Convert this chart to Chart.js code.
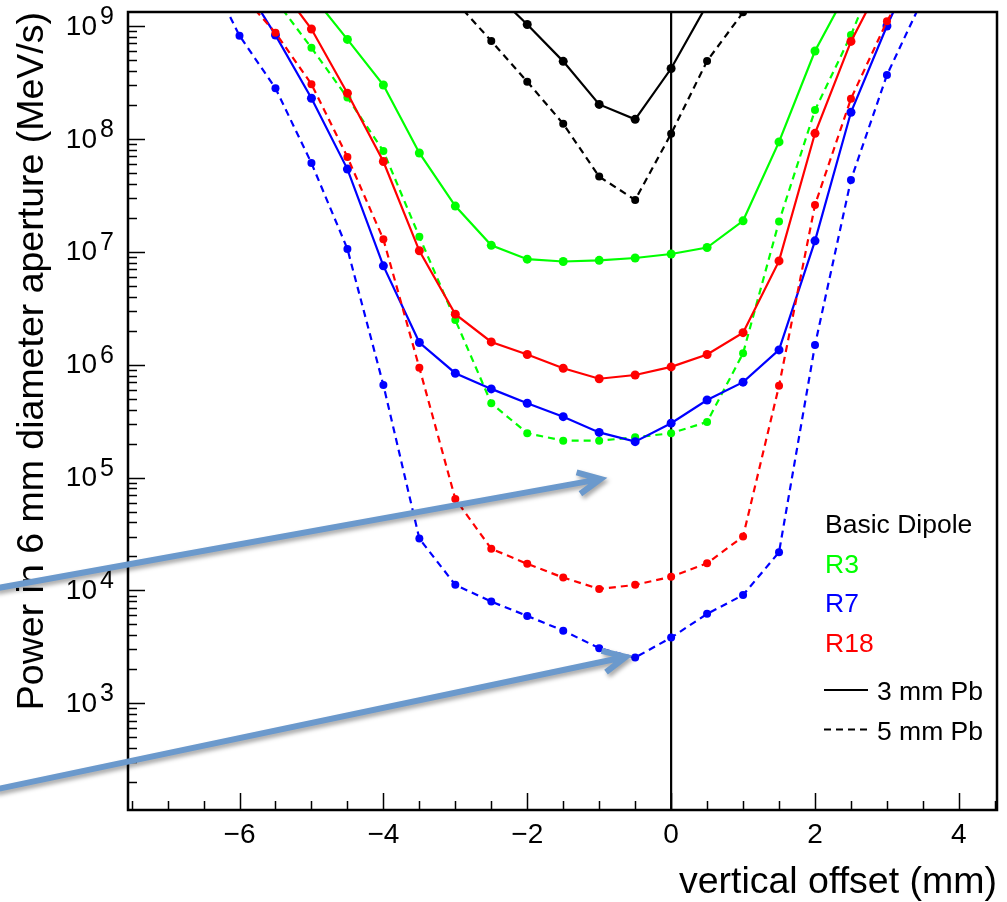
<!DOCTYPE html>
<html>
<head>
<meta charset="utf-8">
<script src="https://cdn.jsdelivr.net/npm/chart.js@4.4.0/dist/chart.umd.min.js"></script>
<style>
  html, body { margin: 0; padding: 0; background: #fff; }
  canvas { display: block; }
</style>
</head>
<body>
<canvas id="myChart" width="1007" height="902"></canvas>
<script>
// vertical offset (mm)
const offsets = [-6.5, -6, -5.5, -5, -4.5, -4, -3.5, -3, -2.5, -2, -1.5, -1, -0.5, 0, 0.5, 1, 1.5, 2, 2.5, 3, 3.5];

// power (MeV/s), null = no point
const dipolePb3 = [null, null, null, null, null, null, null, null, 2.1e9, 1.03e9, 4.86e8, 2.02e8, 1.49e8, 4.2e8, 1.55e9, null, null, null, null, null, null];
const dipolePb5 = [null, null, null, null, null, null, null, 1.66e9, 7.36e8, 3.21e8, 1.36e8, 4.63e7, 2.88e7, 1.11e8, 4.9e8, 1.32e9, 3.5e9, null, null, null, null];
const r3Pb3 = [null, null, null, 1.9e9, 7.6e8, 3.0e8, 7.5e7, 2.54e7, 1.14e7, 8.6e6, 8.2e6, 8.4e6, 8.8e6, 9.55e6, 1.09e7, 1.88e7, 9.4e7, 6.0e8, 2.35e9, null, null];
const r3Pb5 = [null, null, 1.7e9, 6.4e8, 2.32e8, 7.8e7, 1.36e7, 2.49e6, 4.55e5, 2.47e5, 2.12e5, 2.12e5, 2.27e5, 2.47e5, 3.11e5, 1.26e6, 1.85e7, 1.8e8, 8.3e8, 5e9, null];
const r7Pb3 = [null, 2.7e9, 8.3e8, 2.29e8, 5.4e7, 7.5e6, 1.57e6, 8.4e5, 6.1e5, 4.55e5, 3.46e5, 2.51e5, 2.08e5, 3.03e5, 4.86e5, 7.0e5, 1.35e6, 1.25e7, 1.72e8, 1.0e9, 5e9];
const r7Pb5 = [3.6e9, 8.2e8, 2.81e8, 6.1e7, 1.06e7, 6.6e5, 2.88e4, 1.12e4, 7.96e3, 5.95e3, 4.4e3, 3.08e3, 2.54e3, 3.82e3, 6.2e3, 9.1e3, 2.18e4, 1.49e6, 4.33e7, 3.68e8, 1.75e9];
const r18Pb3 = [null, null, 2.5e9, 9.4e8, 2.54e8, 6.3e7, 1.02e7, 2.8e6, 1.59e6, 1.23e6, 9.3e5, 7.5e5, 8.1e5, 9.55e5, 1.23e6, 1.92e6, 8.3e6, 1.12e8, 7.3e8, 3e9, null];
const r18Pb5 = [null, 2e9, 8.7e8, 3.05e8, 6.9e7, 1.29e7, 9.4e5, 6.46e4, 2.34e4, 1.72e4, 1.3e4, 1.03e4, 1.12e4, 1.32e4, 1.74e4, 3.0e4, 6.5e5, 2.6e7, 2.27e8, 1.1e9, 4e9];

// axes
const xMin = -7.55, xMax = 4.53;
const yMin = 113.5, yMax = 1.33e9;
const xTicks = [-6, -4, -2, 0, 2, 4];
const yDecades = [3, 4, 5, 6, 7, 8, 9];

// legend
const legendNames = ['Basic Dipole', 'R3', 'R7', 'R18'];
const legendColors = ['#000000', '#00ff00', '#0000ff', '#ff0000'];
const legendStyles = ['3 mm Pb', '5 mm Pb'];

// annotation arrows, data coords [x, y] tail -> tip
const arrowTails = [[-9.4, 1.04e4], [-9.4, 172]];
const arrowTips = [[-0.98, 9.7e4], [-0.63, 2.58e3]];

const toPoints = (arr) => offsets.map((x, i) => ({ x: x, y: arr[i] })).filter((p) => p.y !== null);

const series = (arr, color, dashed, order) => ({
  data: toPoints(arr),
  borderColor: color,
  backgroundColor: color,
  borderWidth: 2.2,
  borderDash: dashed ? [7, 5] : [],
  pointRadius: dashed ? 4 : 4.5,
  pointBorderWidth: 0,
  pointBackgroundColor: color,
  tension: 0,
  order: order,
});

const font = 'Liberation Sans, Arial, DejaVu Sans, sans-serif';

// ROOT-like frame, inward ticks, superscript labels, legend and arrows
var decorations = {
  id: 'decorations',
  afterDraw(chart) {
    const ctx = chart.ctx;
    const a = chart.chartArea;
    const xs = chart.scales.x;
    const ys = chart.scales.y;
    ctx.save();
    ctx.strokeStyle = '#000';
    ctx.lineWidth = 2.5;
    ctx.strokeRect(a.left, a.top, a.right - a.left, a.bottom - a.top);

    // y ticks
    ctx.lineWidth = 1.5;
    ctx.beginPath();
    for (let d = 2; d <= 9; d++) {
      for (let m = 1; m <= 9; m++) {
        const v = m * Math.pow(10, d);
        if (v < yMin || v > yMax) continue;
        const py = Math.round(ys.getPixelForValue(v)) + 0.5;
        ctx.moveTo(a.left, py);
        ctx.lineTo(a.left + (m === 1 ? 17 : 9), py);
      }
    }
    // x ticks
    for (let t = -7.5; t <= xMax; t += 0.5) {
      const px = Math.round(xs.getPixelForValue(t)) + 0.5;
      ctx.moveTo(px, a.bottom);
      ctx.lineTo(px, a.bottom - (t % 2 === 0 ? 17 : 9));
    }
    ctx.stroke();

    // y labels 10^n
    ctx.fillStyle = '#000';
    yDecades.forEach((d) => {
      const py = ys.getPixelForValue(Math.pow(10, d));
      ctx.font = '28px ' + font;
      ctx.textAlign = 'right';
      ctx.textBaseline = 'middle';
      ctx.fillText('10', 97, py + 1);
      ctx.font = '25px ' + font;
      ctx.textAlign = 'left';
      ctx.textBaseline = 'alphabetic';
      ctx.fillText(String(d), 100, py - 2);
    });

    // legend
    ctx.font = '26.5px ' + font;
    ctx.textAlign = 'left';
    ctx.textBaseline = 'alphabetic';
    legendNames.forEach((name, i) => {
      ctx.fillStyle = legendColors[i];
      ctx.fillText(name, 825, 533 + i * 39.5);
    });
    ctx.fillStyle = '#000';
    ctx.lineWidth = 2;
    legendStyles.forEach((name, i) => {
      const ly = 690 + i * 39.5;
      ctx.setLineDash(i === 0 ? [] : [7, 5]);
      ctx.beginPath();
      ctx.moveTo(824, ly);
      ctx.lineTo(868, ly);
      ctx.stroke();
      ctx.fillText(name, 877, ly + 10);
    });
    ctx.setLineDash([]);

    // arrows
    ctx.strokeStyle = 'rgb(107,153,204)';
    ctx.lineWidth = 6;
    ctx.lineCap = 'butt';
    ctx.lineJoin = 'miter';
    ctx.shadowColor = 'rgba(0,0,0,0.35)';
    ctx.shadowBlur = 4;
    ctx.shadowOffsetX = 2;
    ctx.shadowOffsetY = 3;
    arrowTips.forEach((tip, i) => {
      const x0 = xs.getPixelForValue(arrowTails[i][0]);
      const y0 = ys.getPixelForValue(arrowTails[i][1]);
      const x1 = xs.getPixelForValue(tip[0]);
      const y1 = ys.getPixelForValue(tip[1]);
      const ang = Math.atan2(y1 - y0, x1 - x0);
      ctx.beginPath();
      ctx.moveTo(x0, y0);
      ctx.lineTo(x1 - 2 * Math.cos(ang), y1 - 2 * Math.sin(ang));
      ctx.moveTo(x1 - 25 * Math.cos(ang - 0.45), y1 - 25 * Math.sin(ang - 0.45));
      ctx.lineTo(x1, y1);
      ctx.lineTo(x1 - 25 * Math.cos(ang + 0.45), y1 - 25 * Math.sin(ang + 0.45));
      ctx.stroke();
    });
    ctx.restore();
  },
};

var chart = new Chart(document.getElementById('myChart').getContext('2d'), {
  type: 'line',
  data: {
    datasets: [
      series(r18Pb3, '#ff0000', false, 1),
      series(r18Pb5, '#ff0000', true, 1),
      series(r7Pb3, '#0000ff', false, 2),
      series(r7Pb5, '#0000ff', true, 2),
      series(r3Pb3, '#00ff00', false, 3),
      series(r3Pb5, '#00ff00', true, 3),
      series(dipolePb3, '#000000', false, 4),
      series(dipolePb5, '#000000', true, 4),
      {
        // x = 0 reference line
        data: [{ x: 0, y: yMin }, { x: 0, y: yMax }],
        borderColor: '#000',
        borderWidth: 2.2,
        pointRadius: 0,
        order: 5,
      },
    ],
  },
  options: {
    responsive: false,
    animation: false,
    devicePixelRatio: 1,
    layout: { padding: { top: 12, right: 10, left: 0, bottom: 0 } },
    scales: {
      x: {
        type: 'linear',
        min: xMin,
        max: xMax,
        grid: { display: false, drawTicks: false },
        border: { display: false },
        afterBuildTicks: (s) => { s.ticks = xTicks.map((v) => ({ value: v })); },
        afterFit: (s) => { s.height = 92; },
        ticks: {
          autoSkip: false,
          maxRotation: 0,
          padding: 8,
          color: '#000',
          font: { family: font, size: 28 },
          callback: (v) => String(v).replace('-', '\u2212'),
        },
        title: {
          display: true,
          text: 'vertical offset (mm)',
          align: 'end',
          color: '#000',
          font: { family: font, size: 37.5 },
          padding: { top: 0, bottom: -3 },
        },
      },
      y: {
        type: 'logarithmic',
        min: yMin,
        max: yMax,
        grid: { display: false, drawTicks: false },
        border: { display: false },
        ticks: { display: false },
        afterFit: (s) => { s.width = 128; },
        title: {
          display: true,
          text: 'Power in 6 mm diameter aperture (MeV/s)',
          align: 'end',
          color: '#000',
          font: { family: font, size: 37.5 },
          padding: { top: 10, bottom: 0 },
        },
      },
    },
    plugins: {
      legend: { display: false },
      tooltip: { enabled: false },
    },
  },
  plugins: [decorations],
});
</script>
</body>
</html>
